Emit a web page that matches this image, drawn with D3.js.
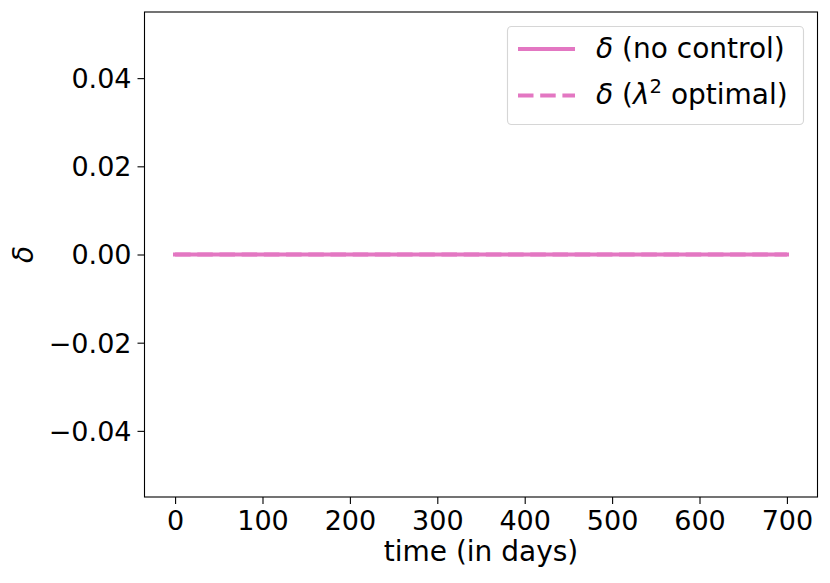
<!DOCTYPE html>
<html>
<head>
<meta charset="utf-8">
<script src="https://cdn.jsdelivr.net/npm/d3@7"></script>
<style>
  html, body { margin: 0; padding: 0; background: #fff; }
  svg text { font-family: "DejaVu Sans", sans-serif; }
</style>
</head>
<body>
<svg id="chart" width="830" height="583"></svg>
<script>
// ---- data ----
const timeDays = [0, 100, 200, 300, 400, 500, 600, 700];
const deltaNoControl = [0, 0, 0, 0, 0, 0, 0, 0];
const deltaLambdaOptimal = [0, 0, 0, 0, 0, 0, 0, 0];
const xTicks = [0, 100, 200, 300, 400, 500, 600, 700];
const yTicks = [-0.04, -0.02, 0.00, 0.02, 0.04];
const seriesLabels = ["(no control)", "optimal)"];

(function () {
const color = "#e377c2";
const tickFont = 27;
const labelFont = 28;

const svg = d3.select("#chart");
const pL = 144.5, pR = 817.5, pT = 12, pB = 497;

const x = d3.scaleLinear().domain([-35, 735]).range([pL, pR]);
const y = d3.scaleLinear().domain([-0.055, 0.055]).range([pB, pT]);

// lines
const line = d3.line().x((d, i) => x(timeDays[i])).y(d => y(d));
svg.append("path").datum(deltaNoControl)
  .attr("d", line).attr("fill", "none").attr("stroke", color)
  .attr("stroke-width", 4.2).attr("stroke-linecap", "square");
svg.append("path").datum(deltaLambdaOptimal)
  .attr("d", line).attr("fill", "none").attr("stroke", color)
  .attr("stroke-width", 4.2).attr("stroke-dasharray", "15.5,6.7");

// axes
const xAxis = d3.axisBottom(x).tickValues(xTicks).tickSize(7).tickPadding(7)
  .tickFormat(d3.format("d"));
const yAxis = d3.axisLeft(y).tickValues(yTicks).tickSize(7).tickPadding(6)
  .tickFormat(d => (d < 0 ? "\u2212" : "") + d3.format(".2f")(Math.abs(d)));

const gx = svg.append("g").attr("transform", `translate(0,${pB})`).call(xAxis);
const gy = svg.append("g").attr("transform", `translate(${pL},0)`).call(yAxis);
[gx, gy].forEach(g => {
  g.select(".domain").remove();
  g.selectAll(".tick line").attr("stroke", "#000").attr("stroke-width", 1.1);
  g.selectAll(".tick text").attr("font-size", tickFont)
    .attr("font-family", "DejaVu Sans").attr("fill", "#000");
});
gy.selectAll(".tick text").attr("dy", "0.35em");

// frame
svg.append("rect").attr("x", pL).attr("y", pT)
  .attr("width", pR - pL).attr("height", pB - pT)
  .attr("fill", "none").attr("stroke", "#000").attr("stroke-width", 1.1);

// axis labels
svg.append("text").attr("x", (pL + pR) / 2).attr("y", 561)
  .attr("text-anchor", "middle").attr("font-size", labelFont)
  .text("time (in days)");
svg.append("text")
  .attr("transform", `translate(33,${y(0)}) rotate(-90)`)
  .attr("text-anchor", "middle").attr("font-size", labelFont)
  .attr("font-style", "italic").text("\u03B4");

// legend
const lg = svg.append("g");
lg.append("rect").attr("x", 507.5).attr("y", 26.5).attr("width", 296).attr("height", 98)
  .attr("rx", 4).attr("fill", "#fff").attr("fill-opacity", 0.8)
  .attr("stroke", "#cccccc").attr("stroke-opacity", 0.8).attr("stroke-width", 1.1);

const rows = [{ y: 49, dash: null }, { y: 95.5, dash: "15.5,6.7" }];
rows.forEach((r, i) => {
  const l = lg.append("line").attr("x1", 518).attr("x2", 575)
    .attr("y1", r.y).attr("y2", r.y)
    .attr("stroke", color).attr("stroke-width", 4.2);
  if (r.dash) l.attr("stroke-dasharray", r.dash); else l.attr("stroke-linecap", "butt");
  const t = lg.append("text").attr("x", 596).attr("y", r.y + 8.5)
    .attr("font-size", labelFont);
  t.append("tspan").attr("font-style", "italic").text("\u03B4");
  if (i === 0) {
    t.append("tspan").text(" " + seriesLabels[0]);
  } else {
    t.append("tspan").text(" (");
    t.append("tspan").attr("font-style", "italic").text("\u03BB");
    t.append("tspan").attr("font-size", labelFont * 0.7).attr("dy", -11).text("2");
    t.append("tspan").attr("dy", 11).text(" " + seriesLabels[1]);
  }
});
})();
</script>
</body>
</html>
